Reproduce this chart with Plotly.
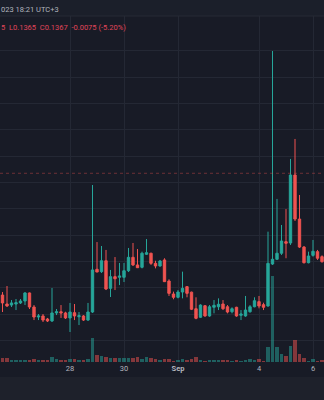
import plotly.graph_objects as go
import pandas as pd

# ---- data (4h candles) ----
start_time = "2023-08-25 12:00"
n_bars = 72

opens = [0.12744,0.12676,0.12668,0.12676,0.12684,0.12699,0.12760,0.12653,0.12577,0.12585,0.12562,0.12547,
         0.12608,0.12617,0.12608,0.12570,0.12610,0.12579,0.12585,0.12554,0.12615,0.12940,0.12922,0.13005,
         0.12795,0.12884,0.12879,0.12879,0.12929,0.13031,0.12973,0.12955,0.13054,0.13062,0.12985,0.12965,
         0.13011,0.12851,0.12752,0.12727,0.12767,0.12808,0.12766,0.12640,0.12575,0.12663,0.12585,0.12651,
         0.12655,0.12676,0.12655,0.12617,0.12651,0.12590,0.12585,0.12617,0.12655,0.12694,0.12671,0.12661,
         0.12980,0.13016,0.13062,0.13150,0.13140,0.13657,0.13322,0.13109,0.12990,0.13046,0.13074,0.13036]
highs = [0.12767,0.12813,0.12706,0.12714,0.12714,0.12767,0.12763,0.12668,0.12600,0.12600,0.12570,0.12798,
         0.12638,0.12668,0.12617,0.12684,0.12676,0.12615,0.12592,0.12684,0.13581,0.13147,0.13117,0.13087,
         0.12935,0.13033,0.12988,0.12988,0.13102,0.13140,0.13094,0.13074,0.13170,0.13066,0.13005,0.13011,
         0.13024,0.12864,0.12770,0.12782,0.12922,0.12813,0.12770,0.12727,0.12674,0.12668,0.12668,0.12706,
         0.12719,0.12706,0.12668,0.12651,0.12655,0.12630,0.12737,0.12668,0.12727,0.12737,0.12686,0.13226,
         0.14600,0.13475,0.13277,0.13398,0.13779,0.13931,0.13505,0.13117,0.13074,0.13163,0.13087,0.13046]
lows = [0.12615,0.12653,0.12653,0.12630,0.12676,0.12668,0.12638,0.12554,0.12554,0.12539,0.12539,0.12539,
        0.12592,0.12570,0.12562,0.12463,0.12554,0.12516,0.12547,0.12547,0.12608,0.12919,0.12912,0.12782,
        0.12729,0.12782,0.12820,0.12843,0.12919,0.12965,0.12950,0.12947,0.13049,0.12973,0.12947,0.12960,
        0.12843,0.12737,0.12712,0.12719,0.12719,0.12727,0.12630,0.12560,0.12570,0.12579,0.12579,0.12605,
        0.12630,0.12630,0.12605,0.12605,0.12579,0.12554,0.12579,0.12610,0.12651,0.12643,0.12630,0.12655,
        0.12973,0.13011,0.13049,0.13024,0.13125,0.13307,0.13102,0.12984,0.12985,0.13036,0.13011,0.12990]
closes = [0.12684,0.12661,0.12684,0.12686,0.12699,0.12760,0.12653,0.12577,0.12585,0.12554,0.12547,0.12608,
          0.12617,0.12608,0.12570,0.12615,0.12585,0.12587,0.12554,0.12615,0.12935,0.12919,0.13005,0.12790,
          0.12884,0.12868,0.12889,0.12929,0.13031,0.12973,0.12952,0.13062,0.13066,0.12985,0.12965,0.13003,
          0.12846,0.12757,0.12727,0.12767,0.12795,0.12757,0.12636,0.12567,0.12668,0.12585,0.12655,0.12666,
          0.12674,0.12640,0.12615,0.12640,0.12585,0.12600,0.12630,0.12655,0.12701,0.12661,0.12651,0.12985,
          0.13016,0.13062,0.13155,0.13138,0.13657,0.13322,0.13109,0.12990,0.13041,0.13077,0.13024,0.12998]
volumes_m = [0.40,0.37,0.23,0.23,0.23,0.23,0.23,0.27,0.20,0.17,0.20,0.50,0.27,0.20,0.20,0.30,0.27,0.20,
             0.20,0.33,2.43,0.73,0.57,0.50,0.43,0.43,0.43,0.40,0.37,0.37,0.50,0.33,0.50,0.37,0.27,0.23,
             0.27,0.33,0.13,0.20,0.30,0.17,0.33,0.47,0.17,0.13,0.20,0.20,0.20,0.23,0.17,0.13,0.23,0.13,
             0.23,0.27,0.20,0.30,0.13,1.50,8.60,1.50,0.80,0.60,1.60,2.20,0.80,0.40,0.15,0.30,0.13,0.20]

tick_dates = ["2023-08-28", "2023-08-30", "2023-09-01", "2023-09-04", "2023-09-06"]
tick_labels = ["28", "30", "<b>Sep</b>", "4", "6"]
price_levels = [0.124, 0.126, 0.128, 0.130, 0.132, 0.134, 0.136, 0.138, 0.140, 0.142, 0.144, 0.146]
last_price = 0.1367
header_line1 = "023 18:21 UTC+3"
header_line2 = "5  L0.1365  C0.1367  -0.0075 (-5.20%)"

# ---- styling ----
UP = "#26a69a"
DOWN = "#ef5350"
BG = "#181b26"
GRID = "#242834"
FONT = "Roboto"

times = pd.date_range(start_time, periods=n_bars, freq="4h")
vol_colors = ["rgba(38,166,154,0.5)" if c >= o else "rgba(239,83,80,0.5)" for o, c in zip(opens, closes)]

fig = go.Figure()
fig.add_trace(go.Candlestick(
    x=times, open=opens, high=highs, low=lows, close=closes,
    increasing=dict(line=dict(color=UP, width=1), fillcolor=UP),
    decreasing=dict(line=dict(color=DOWN, width=1), fillcolor=DOWN),
    whiskerwidth=0, hoverinfo="skip", showlegend=False,
))
fig.add_trace(go.Bar(
    x=times, y=volumes_m, marker=dict(color=vol_colors, line=dict(width=0)),
    width=0.75 * 4 * 3600 * 1000, yaxis="y2", hoverinfo="skip", showlegend=False,
))

fig.update_layout(
    width=324, height=400,
    margin=dict(l=0, r=0, t=16, b=38),
    paper_bgcolor=BG, plot_bgcolor=BG,
    boxgap=0.25,
    xaxis=dict(
        range=["2023-08-25 09:46:40", "2023-09-06 09:46:40"],
        rangeslider=dict(visible=False),
        tickvals=tick_dates, ticktext=tick_labels,
        showgrid=True, gridcolor=GRID, gridwidth=1,
        zeroline=False, showline=False, ticks="",
        tickfont=dict(family=FONT, size=7.5, color="#b2b5be"),
    ),
    yaxis=dict(
        range=[0.12235, 0.14866], tickvals=price_levels,
        showgrid=True, gridcolor=GRID, gridwidth=1,
        showticklabels=False, zeroline=False, showline=False, ticks="",
    ),
    yaxis2=dict(range=[0, 34.6], overlaying="y", visible=False, showgrid=False),
    bargap=0,
    shapes=[
        dict(type="rect", xref="paper", yref="paper", x0=0, x1=1, y0=1, y1=1.0463,
             fillcolor="#1b1f2a", line=dict(width=0), layer="below"),
        dict(type="line", xref="paper", yref="paper", x0=0, x1=1, y0=1, y1=1,
             line=dict(color="#262a35", width=1)),
        dict(type="rect", xref="paper", yref="paper", x0=0, x1=1, y0=-0.11, y1=-0.0434,
             fillcolor="#1e212b", line=dict(width=0), layer="below"),
        dict(type="line", xref="paper", yref="y", x0=0, x1=1, y0=last_price, y1=last_price,
             line=dict(color="rgba(239,83,80,0.4)", width=1, dash="dot"), layer="above"),
    ],
    annotations=[
        dict(text=header_line1, xref="paper", yref="paper", x=0, y=1.0202, xanchor="left", xshift=-1,
             yanchor="middle", showarrow=False, font=dict(family=FONT, size=7.5, color="#b2b5be")),
        dict(text=header_line2, xref="paper", yref="paper", x=0, y=0.9682, xanchor="left", xshift=-1,
             yanchor="middle", showarrow=False, font=dict(family=FONT, size=7.5, color="#e0455a")),
    ],
)

fig.write_html("out.html")
